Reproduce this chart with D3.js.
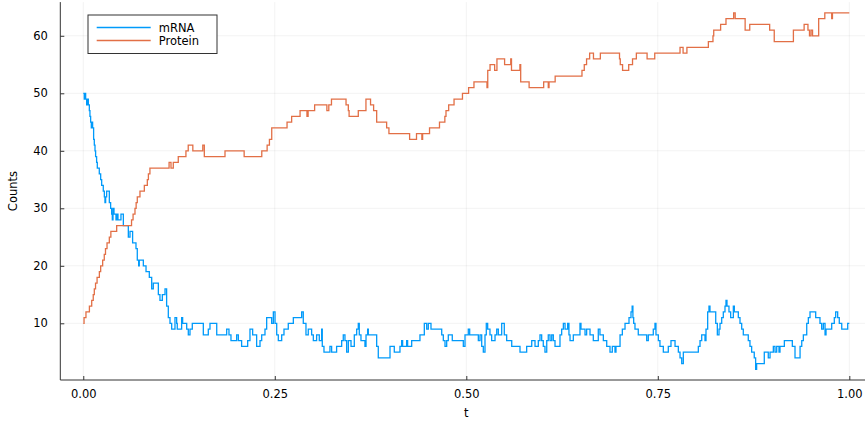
<!DOCTYPE html>
<html><head><meta charset="utf-8">
<script src="https://cdn.jsdelivr.net/npm/d3@7"></script>
<style>body{margin:0;background:#fff} svg{display:block}</style>
</head><body><svg id="c" width="865" height="421"></svg>
<script>
// ---- data (step-post time series) ----
const mrnaT=[0,0.0013,0.0022,0.0031,0.0044,0.0057,0.0066,0.0079,0.0087,0.0096,0.0105,0.0114,0.0122,0.0135,0.0144,0.0153,0.0161,0.0174,0.0183,0.0209,0.0227,0.024,0.0261,0.0275,0.0283,0.0292,0.0305,0.034,0.0357,0.037,0.0379,0.0388,0.0401,0.0427,0.0444,0.0453,0.0492,0.0523,0.0588,0.061,0.0644,0.0688,0.0705,0.0723,0.0731,0.0784,0.0819,0.0862,0.0893,0.0914,0.098,0.1001,0.1032,0.1067,0.1088,0.111,0.1132,0.1154,0.1197,0.1219,0.1227,0.1284,0.1297,0.135,0.1371,0.1393,0.1423,0.1567,0.1632,0.1654,0.1742,0.1872,0.1902,0.1928,0.2002,0.2024,0.2067,0.2146,0.2176,0.2211,0.2263,0.2307,0.2329,0.2372,0.2394,0.2459,0.2481,0.2503,0.2525,0.2546,0.259,0.262,0.2676,0.2742,0.2851,0.2872,0.2907,0.2937,0.2981,0.3003,0.3046,0.3081,0.3112,0.312,0.3142,0.322,0.3242,0.3307,0.3373,0.3394,0.3416,0.3438,0.346,0.3495,0.3538,0.3569,0.359,0.3603,0.3625,0.3677,0.3691,0.3712,0.3721,0.383,0.3851,0.4004,0.406,0.4134,0.4156,0.4169,0.4221,0.4234,0.4287,0.4395,0.4452,0.4483,0.4504,0.4539,0.4679,0.47,0.4722,0.4744,0.4765,0.4817,0.4961,0.4983,0.5026,0.5044,0.5157,0.5179,0.5201,0.5222,0.5244,0.5261,0.5279,0.5309,0.5331,0.5375,0.5397,0.5418,0.5462,0.5496,0.5527,0.5593,0.5701,0.5788,0.5854,0.5897,0.594,0.5962,0.5984,0.6005,0.6027,0.605,0.607,0.6093,0.6115,0.6136,0.6158,0.6223,0.6245,0.6267,0.6289,0.6323,0.634,0.6354,0.6397,0.6484,0.6497,0.655,0.6571,0.6615,0.6658,0.6723,0.6745,0.6789,0.6833,0.6876,0.6906,0.6941,0.6954,0.7007,0.7037,0.7072,0.7124,0.715,0.7165,0.7175,0.7185,0.7202,0.7245,0.7355,0.7376,0.7441,0.7463,0.7476,0.7507,0.7528,0.7572,0.7637,0.7672,0.7725,0.7768,0.779,0.7812,0.7833,0.8029,0.8051,0.8073,0.8116,0.8129,0.8151,0.8168,0.8181,0.8256,0.8277,0.8299,0.8312,0.8334,0.8355,0.8377,0.839,0.8403,0.8429,0.8451,0.8486,0.8499,0.8551,0.8573,0.8595,0.8616,0.8681,0.8703,0.8725,0.8759,0.8777,0.879,0.889,0.8942,0.8965,0.9008,0.903,0.9052,0.9082,0.9095,0.9152,0.9256,0.9291,0.9357,0.9379,0.94,0.9444,0.9465,0.9487,0.9561,0.9617,0.9639,0.9661,0.9683,0.9696,0.977,0.9804,0.9822,0.9848,0.9869,0.9901,0.9979,1];
const mrnaV=[50,49,50,49,48,49,48,47,46,45,44,45,44,42,41,40,39,38,37,36,35,34,33,32,31,32,33,31,30,29,28,30,29,28,29,28,29,27,25,26,24,23,21,20,21,20,19,18,16,17,15,14,15,16,13,11,10,9,11,10,9,11,10,9,8,9,10,8,9,10,8,9,8,7,8,7,6,7,9,8,6,7,8,9,11,10,12,10,8,7,8,9,10,11,12,10,8,9,8,7,8,7,9,6,5,6,5,6,7,8,7,5,7,6,8,9,10,8,7,6,8,9,8,6,4,6,5,6,7,6,7,6,7,8,10,9,10,9,8,7,6,7,8,7,6,8,9,8,7,8,6,5,8,10,9,8,7,8,9,8,10,8,7,6,5,6,7,6,7,8,7,6,5,7,8,7,8,7,6,8,9,10,9,10,8,7,8,10,9,8,9,8,7,9,8,7,6,5,6,5,6,8,9,10,11,12,13,11,10,9,8,7,8,9,10,8,7,6,5,6,7,6,5,4,3,5,6,7,8,7,9,12,13,12,10,8,9,10,11,12,13,14,13,12,11,13,12,11,10,9,8,7,6,5,4,2,3,5,4,5,6,5,6,5,6,7,6,4,6,7,8,10,11,12,11,10,9,10,8,9,10,11,12,11,10,9,10,10];
const proteinT=[0,0.001,0.0035,0.008,0.011,0.013,0.0144,0.016,0.018,0.021,0.0227,0.0253,0.0274,0.029,0.031,0.034,0.036,0.0436,0.063,0.065,0.0675,0.069,0.0705,0.074,0.0797,0.0836,0.085,0.087,0.112,0.1145,0.1175,0.124,0.134,0.137,0.143,0.156,0.158,0.185,0.21,0.233,0.24,0.243,0.246,0.266,0.272,0.283,0.292,0.2935,0.302,0.318,0.3205,0.324,0.343,0.346,0.347,0.359,0.369,0.375,0.379,0.383,0.396,0.399,0.426,0.435,0.442,0.443,0.452,0.465,0.472,0.4735,0.477,0.484,0.495,0.503,0.51,0.527,0.528,0.531,0.537,0.54,0.55,0.558,0.559,0.57,0.571,0.582,0.601,0.607,0.608,0.616,0.651,0.654,0.657,0.661,0.666,0.675,0.7,0.701,0.704,0.712,0.717,0.722,0.736,0.746,0.779,0.783,0.788,0.816,0.822,0.823,0.832,0.839,0.849,0.851,0.864,0.87,0.896,0.902,0.927,0.941,0.946,0.948,0.95,0.952,0.96,0.968,0.977,0.978,1];
const proteinV=[10,11,12,13,14,15,16,17,18,19,20,21,22,23,24,25,26,27,28,29,30,31,32,33,34,35,36,37,38,37,38,39,40,41,40,41,39,40,39,40,41,42,44,45,46,47,46,47,48,47,48,49,48,47,46,47,49,48,47,45,44,43,42,43,42,43,44,45,46,47,48,49,50,51,52,51,54,55,54,56,55,56,54,55,52,51,52,51,52,53,54,55,56,57,56,57,56,55,54,55,56,57,56,57,58,57,58,59,60,61,62,63,64,63,61,62,61,59,61,62,61,60,61,60,63,64,63,64,64];
const seriesNames=["mRNA","Protein"];
const seriesColors=["#009AFA","#E26F46"];
const xTicks=[0,0.25,0.5,0.75,1];
const yTicks=[10,20,30,40,50,60];
const xLabel="t", yLabel="Counts";

// ---- layout ----
const svg=d3.select("#c");
const font="DejaVu Sans, sans-serif";
const x=d3.scaleLinear().domain([-0.03,1.03]).range([60.3,872.3]);
const y=d3.scaleLinear().domain([0.14,65.86]).range([380,2.1]);
const [x0,x1]=x.range(), [y0,y1]=y.range();

// grid
const grid=svg.append("g").attr("stroke","#000").attr("stroke-opacity",0.05).attr("stroke-width",1);
grid.selectAll(".gx").data(xTicks).join("line")
  .attr("x1",d=>x(d)).attr("x2",d=>x(d)).attr("y1",y0).attr("y2",y1);
grid.selectAll(".gy").data(yTicks).join("line")
  .attr("y1",d=>y(d)).attr("y2",d=>y(d)).attr("x1",x0).attr("x2",x1);

// series
const series=[{name:seriesNames[0],t:mrnaT,v:mrnaV,color:seriesColors[0]},
              {name:seriesNames[1],t:proteinT,v:proteinV,color:seriesColors[1]}];
const line=d3.line().x(d=>x(d[0])).y(d=>y(d[1])).curve(d3.curveStepAfter);
svg.append("g").selectAll("path").data(series).join("path")
  .attr("fill","none").attr("stroke",d=>d.color).attr("stroke-width",1.3)
  .attr("d",d=>line(d.t.map((t,i)=>[t,d.v[i]])));

// axes
const fmtX=d3.format(".2f");
const gx=svg.append("g").attr("transform",`translate(0,${y0})`)
  .call(d3.axisBottom(x).tickValues(xTicks).tickFormat(fmtX).tickSizeInner(-4).tickSizeOuter(0).tickPadding(10));
const gy=svg.append("g").attr("transform",`translate(${x0},0)`)
  .call(d3.axisLeft(y).tickValues(yTicks).tickFormat(d3.format("d")).tickSizeInner(-4).tickSizeOuter(0).tickPadding(12.5));
[gx,gy].forEach(g=>{
  g.select(".domain").attr("stroke","#333").attr("stroke-width",1);
  g.selectAll(".tick line").attr("stroke","#333");
  g.selectAll("text").attr("font-family",font).attr("font-size",11.5).attr("fill","#000");
});
gx.select(".domain").attr("d",`M${x0},0H865`);
gy.select(".domain").attr("d",`M0,${y0}V${y1}`);

svg.append("text").attr("x",(x0+x1)/2).attr("y",417).attr("text-anchor","middle")
  .attr("font-family",font).attr("font-size",11.5).text(xLabel);
svg.append("text").attr("transform",`translate(17,${(y0+y1)/2}) rotate(-90)`).attr("text-anchor","middle")
  .attr("font-family",font).attr("font-size",11.5).text(yLabel);

// legend
const lg=svg.append("g");
lg.append("rect").attr("x",88).attr("y",15).attr("width",129).attr("height",38.5)
  .attr("fill","#fff").attr("stroke","#333").attr("stroke-width",1);
const items=lg.selectAll(".it").data(series).join("g").attr("transform",(d,i)=>`translate(0,${27.5+i*13})`);
items.append("line").attr("x1",96.7).attr("x2",150.7).attr("stroke",d=>d.color).attr("stroke-width",1.3);
items.append("text").attr("x",158.7).attr("dy","0.35em").attr("font-family",font).attr("font-size",11.5).text(d=>d.name);
</script></body></html>
